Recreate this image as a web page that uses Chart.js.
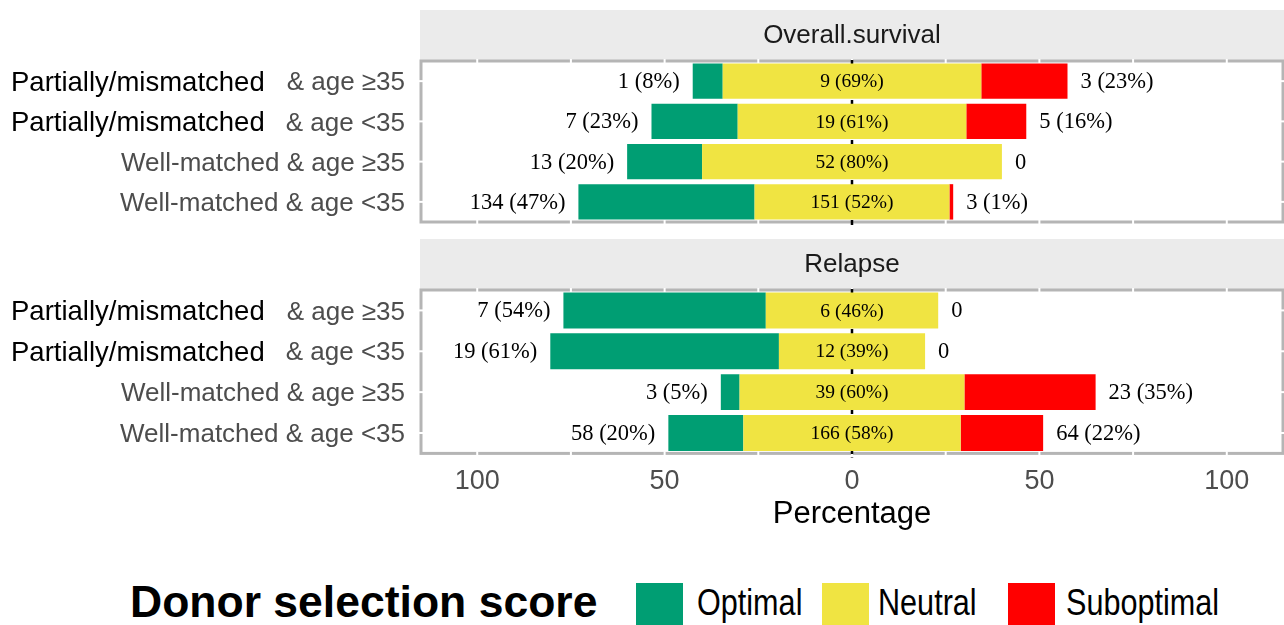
<!DOCTYPE html>
<html>
<head>
<meta charset="utf-8">
<script src="https://cdn.jsdelivr.net/npm/chart.js@4.4.1/dist/chart.umd.min.js"></script>
<style>
  body { margin: 0; background: #fff; width: 1284px; height: 625px; overflow: hidden; position: relative; font-family: "Liberation Sans", Arial, sans-serif; }
  canvas { position: absolute; left: 0; }
  #top { top: 0; }
  #bottom { top: 228px; }
  .lg { position: absolute; }
  #lgTitle { left: 130px; top: 577px; font: bold 44.5px "Liberation Sans", Arial, sans-serif; color: #000; white-space: nowrap; }
  .sw { position: absolute; top: 583px; width: 47px; height: 44px; }
  .lt { position: absolute; top: 582px; font: 36px "Liberation Sans", sans-serif; color: #000; white-space: nowrap; transform: scaleX(0.85); transform-origin: left center; }
</style>
</head>
<body>
<canvas id="top" width="1284" height="232"></canvas>
<canvas id="bottom" width="1284" height="327"></canvas>
<div id="lgTitle" class="lg">Donor selection score</div>
<div class="sw" style="left:636px;background:#009E73"></div><div class="lt" style="left:697px">Optimal</div>
<div class="sw" style="left:822px;background:#F0E442"></div><div class="lt" style="left:878px">Neutral</div>
<div class="sw" style="left:1008px;background:#FF0000"></div><div class="lt" style="left:1066px">Suboptimal</div>
<script>
const categories = ['Partially/mismatched & age ≥35', 'Partially/mismatched & age <35', 'Well-matched & age ≥35', 'Well-matched & age <35'];
const panelTitles = ['Overall.survival', 'Relapse'];

// overall survival: counts and percentages
const osOptimalN = [1, 7, 13, 134];
const osOptimalPct = [8, 23, 20, 47];
const osNeutralN = [9, 19, 52, 151];
const osNeutralPct = [69, 61, 80, 52];
const osSubN = [3, 5, 0, 3];
const osSubPct = [23, 16, 0, 1];

// relapse
const relOptimalN = [7, 19, 3, 58];
const relOptimalPct = [54, 61, 5, 20];
const relNeutralN = [6, 12, 39, 166];
const relNeutralPct = [46, 39, 60, 58];
const relSubN = [0, 0, 23, 64];
const relSubPct = [0, 0, 35, 22];

const xTicks = [-100, -50, 0, 50, 100];
const gridBreaks = [-100, -75, -50, -25, 0, 25, 50, 75, 100];
const colors = { optimal: '#009E73', neutral: '#F0E442', sub: '#FF0000' };

function lbl(n, p) { return n === 0 ? '0' : n + ' (' + p + '%)'; }

function makePanel(id, title, optN, optP, neuN, neuP, subN, subP, showAxis) {
    const decor = {
        id: 'decor',
        beforeDatasetsDraw(chart) {
            const { ctx, chartArea: a, scales: { x, y } } = chart;
            ctx.save();
            // facet strip
            ctx.fillStyle = '#EBEBEB';
            ctx.fillRect(a.left - 1, a.top - 51, 1284 - a.left + 1, 50);
            ctx.fillStyle = '#1A1A1A';
            ctx.font = '26px "Liberation Sans", Arial, sans-serif';
            ctx.textAlign = 'center';
            ctx.textBaseline = 'middle';
            ctx.fillText(title, (a.left + a.right) / 2, a.top - 25);
            // panel border
            ctx.strokeStyle = '#B5B5B5';
            ctx.lineWidth = 3;
            ctx.strokeRect(a.left, a.top, a.right - a.left, a.bottom - a.top);
            ctx.fillStyle = '#fff';
            gridBreaks.forEach(v => {
                const px = x.getPixelForValue(v);
                ctx.fillRect(px - 1, a.top - 2, 2, 4);
                ctx.fillRect(px - 1, a.bottom - 2, 2, 4);
            });
            categories.forEach((c, i) => {
                const py = y.getPixelForValue(i);
                ctx.fillRect(a.left - 2, py - 1, 4, 2);
                ctx.fillRect(a.right - 2, py - 1, 4, 2);
            });
            // zero line
            ctx.strokeStyle = '#000';
            ctx.lineWidth = 2.5;
            ctx.setLineDash([5, 3]);
            const z = x.getPixelForValue(0);
            ctx.beginPath();
            ctx.moveTo(z, a.top - 1);
            ctx.lineTo(z, a.bottom + 4);
            ctx.stroke();
            ctx.restore();
        },
        afterDatasetsDraw(chart) {
            const { ctx, scales: { x, y } } = chart;
            ctx.save();
            ctx.fillStyle = '#000';
            ctx.textBaseline = 'middle';
            categories.forEach((c, i) => {
                const py = y.getPixelForValue(i) + 1;
                ctx.font = '19.5px "Liberation Serif", "Times New Roman", serif';
                ctx.textAlign = 'center';
                ctx.fillText(lbl(neuN[i], neuP[i]), x.getPixelForValue(0), py);
                ctx.font = '22.5px "Liberation Serif", "Times New Roman", serif';
                ctx.textAlign = 'right';
                ctx.fillText(lbl(optN[i], optP[i]), x.getPixelForValue(-(neuP[i] / 2 + optP[i])) - 13, py);
                ctx.textAlign = 'left';
                ctx.fillText(lbl(subN[i], subP[i]), x.getPixelForValue(neuP[i] / 2 + subP[i]) + 13, py);
            });
            ctx.restore();
        },
        afterDraw(chart) {
            const { ctx, scales: { y } } = chart;
            ctx.save();
            ctx.textBaseline = 'middle';
            categories.forEach((c, i) => {
                const py = y.getPixelForValue(i) + 2;
                const main = 'Partially/mismatched';
                if (c.startsWith(main)) {
                    ctx.fillStyle = '#000';
                    ctx.font = '27.5px "Liberation Sans", Arial, sans-serif';
                    ctx.textAlign = 'left';
                    ctx.fillText(main, 11, py);
                    c = c.slice(main.length + 1);
                }
                ctx.fillStyle = '#4D4D4D';
                ctx.font = '26px "Liberation Sans", Arial, sans-serif';
                ctx.textAlign = 'right';
                ctx.fillText(c, 405, py);
            });
            ctx.restore();
        }
    };

    return new Chart(document.getElementById(id), {
        type: 'bar',
        data: {
            labels: categories,
            datasets: [
                { label: 'Neutral', data: neuP.map(v => -v / 2), backgroundColor: colors.neutral },
                { label: 'Optimal', data: optP.map(v => -v), backgroundColor: colors.optimal },
                { label: 'Neutral', data: neuP.map(v => v / 2), backgroundColor: colors.neutral },
                { label: 'Suboptimal', data: subP, backgroundColor: colors.sub }
            ]
        },
        options: {
            indexAxis: 'y',
            responsive: false,
            animation: false,
            layout: { padding: { left: 421, right: 1, top: showAxis ? 62 : 61, bottom: showAxis ? 4 : 10 } },
            datasets: { bar: { barPercentage: 0.88, categoryPercentage: 1, borderWidth: 0 } },
            plugins: { legend: { display: false }, tooltip: { enabled: false } },
            scales: {
                x: {
                    stacked: true,
                    min: -115, max: 115,
                    display: showAxis,
                    afterBuildTicks: s => { s.ticks = xTicks.map(v => ({ value: v })); },
                    grid: { display: false, drawTicks: false },
                    border: { display: false },
                    ticks: {
                        padding: 12,
                        color: '#4D4D4D',
                        font: { family: '"Liberation Sans", Arial, sans-serif', size: 27 },
                        callback: v => String(Math.abs(v))
                    },
                    title: {
                        display: true,
                        text: 'Percentage',
                        color: '#000',
                        padding: { top: -14, bottom: 18 },
                        font: { family: '"Liberation Sans", Arial, sans-serif', size: 31 }
                    }
                },
                y: { stacked: true, display: false }
            }
        },
        plugins: [decor]
    });
}

makePanel('top', panelTitles[0], osOptimalN, osOptimalPct, osNeutralN, osNeutralPct, osSubN, osSubPct, false);
makePanel('bottom', panelTitles[1], relOptimalN, relOptimalPct, relNeutralN, relNeutralPct, relSubN, relSubPct, true);
</script>
</body>
</html>
